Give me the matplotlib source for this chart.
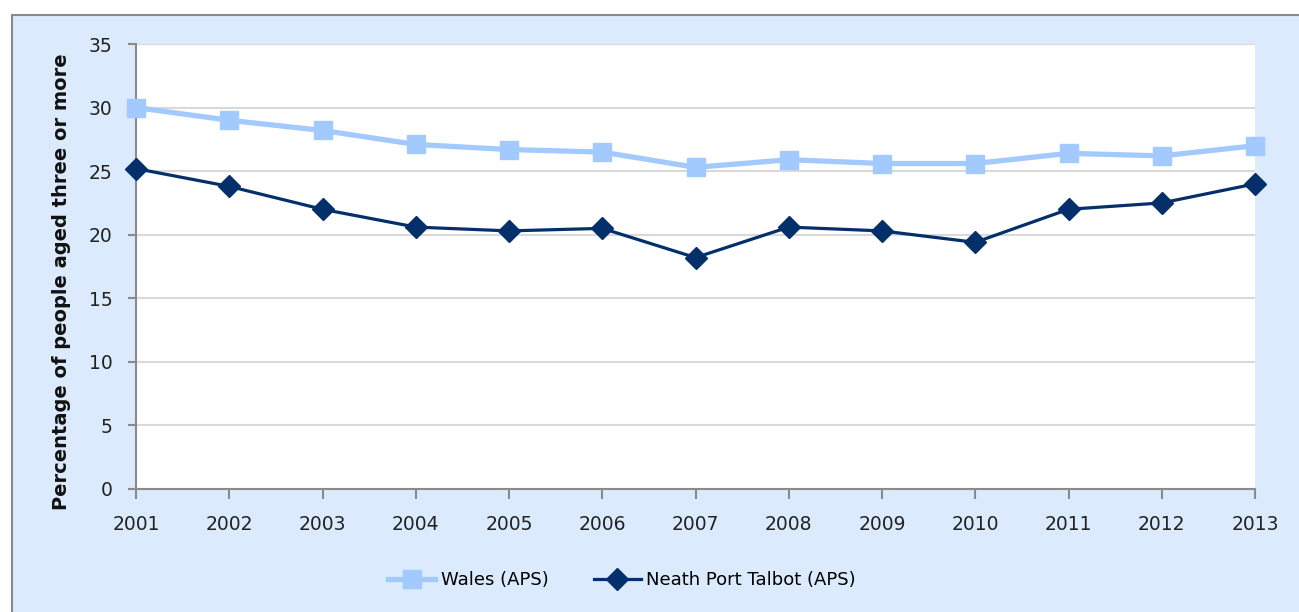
import matplotlib.pyplot as plt
from matplotlib.patches import Rectangle

years = ['2001', '2002', '2003', '2004', '2005', '2006', '2007',
         '2008', '2009', '2010', '2011', '2012', '2013']
wales = [30.0, 29.0, 28.2, 27.1, 26.7, 26.5, 25.3, 25.9, 25.6, 25.6, 26.4, 26.2, 27.0]
npt = [25.2, 23.8, 22.0, 20.6, 20.3, 20.5, 18.2, 20.6, 20.3, 19.4, 22.0, 22.5, 24.0]

W, H = 1299, 612
fig = plt.figure(figsize=(W / 100, H / 100), dpi=100)
fig.patch.set_facecolor('white')

# chart area background with grey border (bottom/right edges run off the figure)
fig.patches.append(Rectangle((12 / W, -0.05), 1.0, 1.05 - 15 / H, transform=fig.transFigure,
                             facecolor='#dbeafc', edgecolor='#8a8a8a', linewidth=1.5, zorder=-10))

ax = fig.add_axes([136 / W, 1 - 489 / H, (1255 - 136) / W, (489 - 44) / H])
ax.set_facecolor('white')

x = list(range(len(years)))
ax.plot(x, wales, color='#a3caff', lw=3.8, marker='s', ms=13, label='Wales (APS)',
        clip_on=False, zorder=3)
ax.plot(x, npt, color='#032f6a', lw=2.3, marker='D', ms=11, label='Neath Port Talbot (APS)',
        clip_on=False, zorder=4)

ax.set_xlim(0, len(years) - 1)
ax.set_ylim(0, 35)
ax.set_yticks(range(0, 36, 5))
ax.set_xticks(x)
ax.set_xticklabels(years)
ax.tick_params(axis='both', labelsize=13.5, colors='#8a8a8a', labelcolor='#222222',
               direction='out', width=1.5)
ax.tick_params(axis='x', length=7, pad=12)
ax.tick_params(axis='y', length=6, pad=11)
ax.grid(axis='y', color='#d9d9d9', lw=1.5)
ax.set_axisbelow(True)
for s in ['top', 'right']:
    ax.spines[s].set_visible(False)
for s in ['left', 'bottom']:
    ax.spines[s].set_color('#8a8a8a')
    ax.spines[s].set_linewidth(1.5)

fig.text(62 / W, 1 - 282 / H, 'Percentage of people aged three or more', rotation=90,
         ha='center', va='center', fontsize=14, fontweight='bold', color='#111111')

fig.legend(loc='center', bbox_to_anchor=(622 / W, 1 - 580 / H), ncol=2, frameon=False,
           fontsize=13, handlelength=2.6, columnspacing=2.5, handletextpad=0.3)

fig.savefig('out.png', dpi=100)
